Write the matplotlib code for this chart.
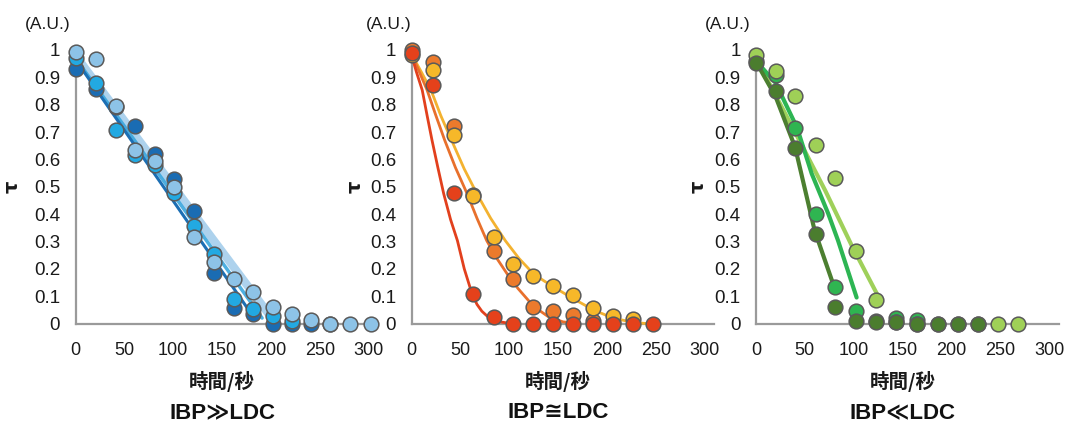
import matplotlib
matplotlib.use("Agg")
import matplotlib.pyplot as plt
import numpy as np

# ---------------- data ----------------
# Panel 1 (IBP >> LDC), blue series
p1_t = [0, 21, 41, 61, 81, 101, 121, 142, 162, 182, 202, 222, 241, 261, 281, 302]
p1_dark = [0.93, 0.856, 0.79, 0.721, 0.619, 0.529, 0.411, 0.183, 0.056, 0.034, 0.0, 0.0, 0.0, 0.0]
p1_cyan = [0.97, 0.878, 0.709, 0.615, 0.578, 0.477, 0.355, 0.254, 0.089, 0.053, 0.028, 0.01]
p1_light = [0.994, 0.966, 0.795, 0.636, 0.594, 0.499, 0.315, 0.224, 0.163, 0.114, 0.061, 0.034, 0.012, 0.0, 0.0, 0.0]
p1_fit_dark_x = [0, 181]
p1_fit_dark_y = [0.965, 0.03]
p1_fit_cyan_x = [0, 191]
p1_fit_cyan_y = [0.97, 0.02]
p1_fit_light_x = [0, 204]
p1_fit_light_y = [0.98, 0.005]

# Panel 2 (IBP ~= LDC), orange series
p2_t = [0, 22, 43, 63, 84, 104, 124, 145, 165, 186, 206, 227, 247]
p2_orange = [1.0, 0.957, 0.721, 0.47, 0.264, 0.163, 0.061, 0.044, 0.03, 0.01, 0.005]
p2_yellow = [0.98, 0.927, 0.688, 0.468, 0.318, 0.218, 0.175, 0.138, 0.105, 0.056, 0.028, 0.017]
p2_red = [0.988, 0.872, 0.477, 0.108, 0.022, 0.0, 0.0, 0.0, 0.0, 0.0, 0.0, 0.0, 0.0]
p2_fit_red_x = [0, 5, 11, 16, 21, 27, 33, 40, 47, 54, 62, 67, 72, 79, 88, 96, 104]
p2_fit_red_y = [0.982, 0.92, 0.853, 0.76, 0.67, 0.57, 0.474, 0.38, 0.303, 0.2, 0.108, 0.07, 0.045, 0.022, 0.008, 0.003, 0.0]
p2_fit_orange_x = [0, 8, 16, 25, 34, 45, 57, 67, 77, 87, 98, 109, 120, 130, 140, 155, 170]
p2_fit_orange_y = [0.985, 0.92, 0.853, 0.76, 0.67, 0.57, 0.474, 0.385, 0.303, 0.24, 0.181, 0.128, 0.083, 0.05, 0.025, 0.006, 0.0]
p2_fit_yellow_x = [0, 10, 20, 30, 41, 54, 67, 81, 96, 110, 125, 136, 147, 165, 186, 206, 227, 240]
p2_fit_yellow_y = [0.985, 0.92, 0.853, 0.76, 0.67, 0.565, 0.474, 0.385, 0.303, 0.238, 0.181, 0.155, 0.13, 0.092, 0.05, 0.02, 0.004, 0.0]

# Panel 3 (IBP << LDC), green series
p3_t = [0, 20, 40, 61, 81, 102, 123, 143, 165, 186, 207, 227, 248, 268]
p3_medium = [0.96, 0.908, 0.716, 0.399, 0.132, 0.044, 0.01, 0.02, 0.012]
p3_light = [0.982, 0.924, 0.831, 0.652, 0.533, 0.264, 0.086, 0.005, 0.0, 0.0, 0.0, 0.0, 0.0, 0.0]
p3_dark = [0.951, 0.851, 0.640, 0.328, 0.059, 0.01, 0.005, 0.005, 0.0, 0.0, 0.0, 0.0]
p3_fit_dark_x = [0, 20, 40, 60, 79]
p3_fit_dark_y = [0.957, 0.83, 0.645, 0.34, 0.144]
p3_fit_medium_x = [0, 20, 42, 57, 74, 84, 103]
p3_fit_medium_y = [0.96, 0.88, 0.716, 0.548, 0.401, 0.303, 0.095]
p3_fit_light_x = [0, 45, 71, 98, 125]
p3_fit_light_y = [0.97, 0.665, 0.485, 0.285, 0.10]

x_ticks = [0, 50, 100, 150, 200, 250, 300]
y_ticks = [0, 0.1, 0.2, 0.3, 0.4, 0.5, 0.6, 0.7, 0.8, 0.9, 1]
y_ticklabels = ["0", "0.1", "0.2", "0.3", "0.4", "0.5", "0.6", "0.7", "0.8", "0.9", "1"]
titles = ["IBP≫LDC", "IBP≅LDC", "IBP≪LDC"]
xlabel = "時間/秒"
ylabel = "τ"
unit = "(A.U.)"

# ---------------- figure ----------------
W, H = 1066, 433
fig = plt.figure(figsize=(W / 100, H / 100), dpi=100)

ppu = 0.977
x_left_px = [75.5, 411.5, 756]
y0_px, y1_px = 323.5, 50
xmax = 310
ax_w = xmax * ppu / W
ax_b = (H - y0_px) / H
ax_h = (y0_px - y1_px) / H

edge = "#5a5a5a"
spine_col = "#9a9a9a"
ms = 112
tick_font = ["Liberation Sans", "DejaVu Sans"]
ylab_off_px = [-63, -56, -58]

panels = [
    dict(
        lines=[(p1_fit_light_x, p1_fit_light_y, "#9fcbea", 6, 0.85),
               (p1_fit_cyan_x, p1_fit_cyan_y, "#3aa6dd", 2.5, 0.9),
               (p1_fit_dark_x, p1_fit_dark_y, "#1c6fb4", 2.2, 1.0)],
        pts=[(p1_t, p1_dark, "#1a6cb3"),
             (p1_t, p1_cyan, "#22a9e2"),
             (p1_t, p1_light, "#8dc3e7")],
    ),
    dict(
        lines=[(p2_fit_yellow_x, p2_fit_yellow_y, "#f3b230", 2.0, 1.0),
               (p2_fit_orange_x, p2_fit_orange_y, "#e8702c", 2.0, 1.0),
               (p2_fit_red_x, p2_fit_red_y, "#e2401d", 2.0, 1.0)],
        pts=[(p2_t, p2_orange, "#ec7a2c"),
             (p2_t, p2_yellow, "#f6b829"),
             (p2_t, p2_red, "#e5411b")],
    ),
    dict(
        lines=[(p3_fit_light_x, p3_fit_light_y, "#9fd05a", 3.0, 1.0),
               (p3_fit_medium_x, p3_fit_medium_y, "#2db553", 3.0, 1.0),
               (p3_fit_dark_x, p3_fit_dark_y, "#4c7f30", 3.0, 1.0)],
        pts=[(p3_t, p3_medium, "#2fb551"),
             (p3_t, p3_light, "#9fd057"),
             (p3_t, p3_dark, "#4b7d2e")],
    ),
]

for i, pan in enumerate(panels):
    ax = fig.add_axes([x_left_px[i] / W, ax_b, ax_w, ax_h])
    ax.set_xlim(0, xmax)
    ax.set_ylim(0, 1.0)
    for (lx, ly, c, lw, a) in pan["lines"]:
        ax.plot(lx, ly, color=c, lw=lw, alpha=a, solid_capstyle="round",
                solid_joinstyle="round", zorder=2, clip_on=False)
    for k, (t, v, c) in enumerate(pan["pts"]):
        ax.scatter(t[:len(v)], v, s=ms, color=c, edgecolors=edge, linewidths=1.1,
                   zorder=3 + k, clip_on=False)
    for s in ["top", "right"]:
        ax.spines[s].set_visible(False)
    for s in ["left", "bottom"]:
        ax.spines[s].set_color(spine_col)
        ax.spines[s].set_linewidth(1.6)
        ax.spines[s].set_zorder(1)
    ax.spines["left"].set_bounds(0, 1.0)
    ax.set_xticks(x_ticks)
    ax.set_yticks(y_ticks)
    ax.set_yticklabels(y_ticklabels)
    ax.tick_params(axis="both", length=0)
    ax.tick_params(axis="x", pad=13, labelsize=13)
    ax.tick_params(axis="y", pad=11, labelsize=13.5)
    for lab in ax.get_xticklabels() + ax.get_yticklabels():
        lab.set_fontfamily(tick_font)
        lab.set_color("#1a1a1a")
    ax.patch.set_alpha(0)

    # y label tau
    x0 = x_left_px[i]
    fig.text((x0 + ylab_off_px[i]) / W, (H - (y0_px - 0.5 * (y0_px - y1_px))) / H, ylabel,
             rotation=90, ha="center", va="center", fontsize=14, fontweight="bold",
             family=["DejaVu Sans"], color="#1a1a1a")
    # unit
    ux = [48, 389, 728][i]
    fig.text(ux / W, (H - 24) / H, unit, ha="center", va="center", fontsize=12.5,
             family=tick_font, color="#1a1a1a")
    cx = (x0 + 150 * ppu) / W
    fig.text(cx, (H - 382) / H, xlabel, ha="center", va="center", fontsize=14,
             family=["Noto Sans CJK JP", "DejaVu Sans"], fontweight="bold", color="#1a1a1a")
    fig.text(cx, (H - 413) / H, titles[i], ha="center", va="center", fontsize=16,
             family=["Liberation Sans", "DejaVu Sans"], fontweight="bold", color="#111111")

fig.savefig("out.png", dpi=100, facecolor="white")
